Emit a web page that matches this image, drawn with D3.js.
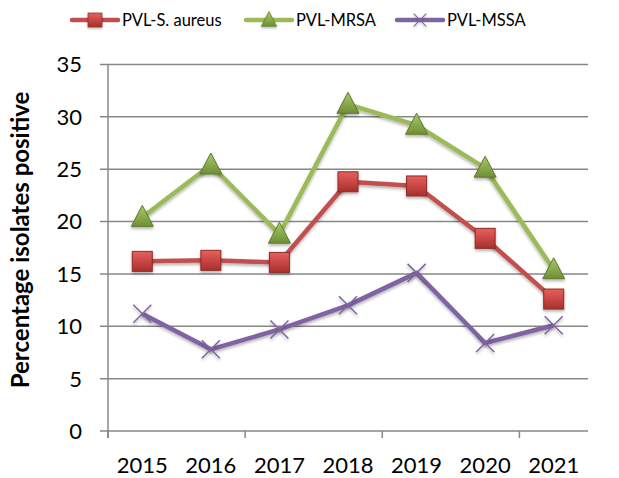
<!DOCTYPE html>
<html>
<head>
<meta charset="utf-8">
<script src="https://cdn.jsdelivr.net/npm/d3@7"></script>
<style>
  body { margin: 0; background: #fff; }
  svg text { font-family: Lato, "Open Sans", sans-serif; fill: #000; }
</style>
</head>
<body>
<div id="chart"></div>
<script>
var years = ["2015", "2016", "2017", "2018", "2019", "2020", "2021"];
var aureus = [16.2, 16.3, 16.1, 23.8, 23.4, 18.4, 12.6];
var mrsa = [20.4, 25.4, 18.8, 31.2, 29.2, 25.1, 15.4];
var mssa = [11.2, 7.8, 9.7, 12.0, 15.1, 8.4, 10.1];
var yTicks = [0, 5, 10, 15, 20, 25, 30, 35];

var width = 619, height = 478;
var margin = {top: 64.5, right: 31, bottom: 47, left: 108};

var svg = d3.select("#chart").append("svg")
    .attr("width", width)
    .attr("height", height);

var defs = svg.append("defs");

var shadow = defs.append("filter").attr("id", "shadow")
    .attr("x", "-50%").attr("y", "-50%").attr("width", "200%").attr("height", "200%");
shadow.append("feDropShadow")
    .attr("dx", 0).attr("dy", 2).attr("stdDeviation", 1.5)
    .attr("flood-color", "#000").attr("flood-opacity", 0.3);

function grad(id, c1, c2) {
  var g = defs.append("linearGradient").attr("id", id)
      .attr("x1", 0).attr("y1", 0).attr("x2", 0).attr("y2", 1);
  g.append("stop").attr("offset", "0%").attr("stop-color", c1);
  g.append("stop").attr("offset", "100%").attr("stop-color", c2);
}
grad("gRed", "#e8605c", "#a82f2c");
grad("gGreen", "#a9c96a", "#6f8f35");

var x = d3.scaleBand().domain(years).range([margin.left, width - margin.right]).padding(0);
var y = d3.scaleLinear().domain([0, 35]).range([height - margin.bottom, margin.top]);

var gridColor = "#878787";

// gridlines + y ticks
svg.append("g").selectAll("line").data(yTicks).enter().append("line")
    .attr("x1", margin.left - 8).attr("x2", width - margin.right)
    .attr("y1", function(d) { return y(d); }).attr("y2", function(d) { return y(d); })
    .attr("stroke", gridColor).attr("stroke-width", 1.5);

svg.append("g").selectAll("text").data(yTicks).enter().append("text")
    .attr("x", margin.left - 26)
    .attr("y", function(d) { return y(d); })
    .attr("dy", "0.36em")
    .attr("text-anchor", "end")
    .style("font-size", "22px")
    .text(function(d) { return d; });

// y axis line
svg.append("line")
    .attr("x1", margin.left).attr("x2", margin.left)
    .attr("y1", y(35)).attr("y2", y(0) + 7)
    .attr("stroke", gridColor).attr("stroke-width", 1.5);

// x ticks every 2 categories
var xTickIdx = [0, 2, 4, 6];
svg.append("g").selectAll("line").data(xTickIdx).enter().append("line")
    .attr("x1", function(i) { return x(years[i]); })
    .attr("x2", function(i) { return x(years[i]); })
    .attr("y1", y(0)).attr("y2", y(0) + 7)
    .attr("stroke", gridColor).attr("stroke-width", 1.5);

svg.append("g").selectAll("text").data(years).enter().append("text")
    .attr("x", function(d) { return x(d) + x.bandwidth() / 2; })
    .attr("y", 473)
    .attr("text-anchor", "middle")
    .style("font-size", "22px")
    .text(function(d) { return d; });

// y title
svg.append("text")
    .attr("transform", "translate(29,240) rotate(-90)")
    .attr("text-anchor", "middle")
    .style("font-size", "24px")
    .style("font-weight", "bold")
    .text("Percentage isolates positive");

var cx = function(d, i) { return x(years[i]) + x.bandwidth() / 2; };

var series = [
  {name: "PVL-S. aureus", values: aureus, color: "#c0504d", marker: "square"},
  {name: "PVL-MRSA", values: mrsa, color: "#9bbb59", marker: "triangle"},
  {name: "PVL-MSSA", values: mssa, color: "#8064a2", marker: "cross"}
];

function drawMarker(g, type, px, py) {
  if (type === "square") {
    g.append("rect")
        .attr("x", px - 10).attr("y", py - 10).attr("width", 20).attr("height", 20)
        .attr("fill", "url(#gRed)").attr("stroke", "#8c2b28").attr("stroke-width", 1)
        .attr("filter", "url(#shadow)");
  } else if (type === "triangle") {
    g.append("path")
        .attr("d", "M" + px + "," + (py - 12) + "L" + (px + 11) + "," + (py + 9) + "L" + (px - 11) + "," + (py + 9) + "Z")
        .attr("fill", "url(#gGreen)").attr("stroke", "#5f7a2c").attr("stroke-width", 1)
        .attr("filter", "url(#shadow)");
  } else {
    g.append("path")
        .attr("d", "M" + (px - 9) + "," + (py - 9) + "L" + (px + 9) + "," + (py + 9) +
                   "M" + (px + 9) + "," + (py - 9) + "L" + (px - 9) + "," + (py + 9))
        .attr("stroke", "#8064a2").attr("stroke-width", 1.5).attr("fill", "none")
        .attr("filter", "url(#shadow)");
  }
}

var line = d3.line()
    .x(cx)
    .y(function(d) { return y(d); });

series.forEach(function(s) {
  var g = svg.append("g");
  g.append("path")
      .datum(s.values)
      .attr("d", line)
      .attr("fill", "none")
      .attr("stroke", s.color)
      .attr("stroke-width", 4.5)
      .attr("stroke-linejoin", "round")
      .attr("filter", "url(#shadow)");
  s.values.forEach(function(v, i) {
    drawMarker(g, s.marker, cx(v, i), y(v));
  });
});

// legend
var legendX = [72, 246, 397];
series.forEach(function(s, i) {
  var g = svg.append("g");
  var lx = legendX[i];
  g.append("line")
      .attr("x1", lx).attr("x2", lx + 46).attr("y1", 20).attr("y2", 20)
      .attr("stroke", s.color).attr("stroke-width", 4.5).attr("stroke-linecap", "round");
  var mg = g.append("g").attr("transform", "translate(" + (lx + 23) + ",20) scale(0.7) translate(" + -(lx + 23) + ",-20)");
  drawMarker(mg, s.marker, lx + 23, 20);
  g.append("text")
      .attr("x", lx + 50).attr("y", 20).attr("dy", "0.36em")
      .style("font-size", "16.5px")
      .text(s.name);
});
</script>
</body>
</html>
